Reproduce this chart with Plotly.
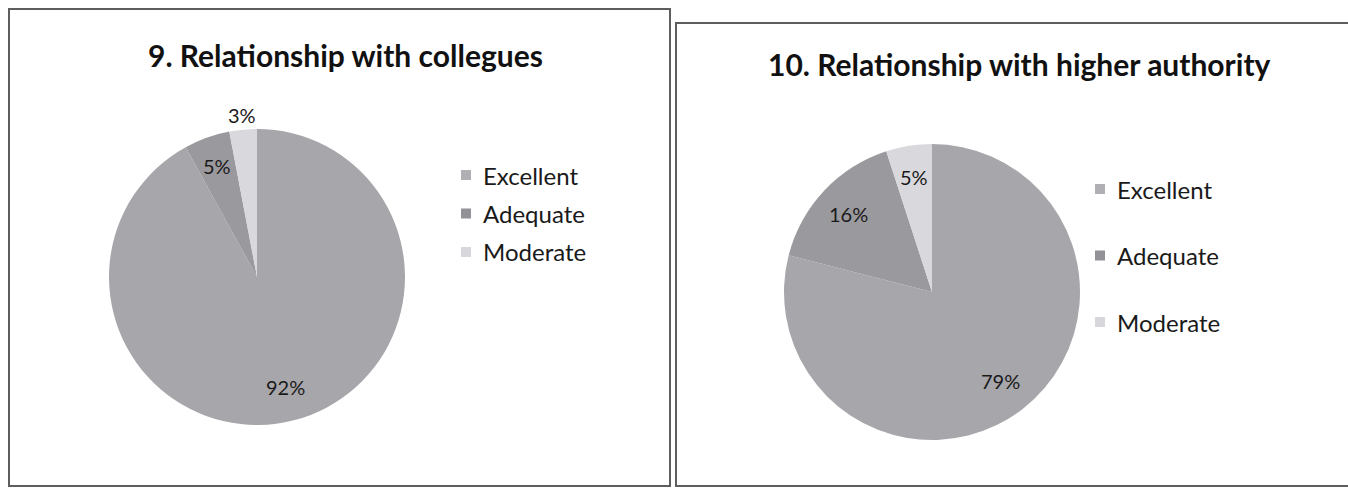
import math
import plotly.graph_objects as go

# datos
categorias = ["Excellent", "Adequate", "Moderate"]
colegas = [92, 5, 3]
autoridad = [79, 16, 5]
titulo_colegas = "9. Relationship with collegues"
titulo_autoridad = "10. Relationship with higher authority"

colores = ["#a7a6ab", "#9a999e", "#d9d9dd"]
colores_leyenda = ["#b0afb4", "#929197", "#d8d8dc"]

W, H = 1348, 495
fuente = "Lato"


def px(x):
    return x / W


def py(y):
    return 1 - y / H


fig = go.Figure()

paneles = [
    # valores, titulo, centro, radio, pos titulo, leyenda (x, y, paso), radios etiqueta
    (colegas, titulo_colegas, (257, 277), 148, (345, 55), (466, 175, 38.5), [0.77, 0.8, 1.1]),
    (autoridad, titulo_autoridad, (932, 292), 148, (1019, 64), (1100, 189, 66.5), [0.76, 0.77, 0.79]),
]

anotaciones = []
formas = []

for valores, titulo, (cx, cy), r, (tx, ty), (lx, ly, paso), radios in paneles:
    fig.add_trace(go.Pie(
        labels=categorias,
        values=valores,
        sort=False,
        direction="clockwise",
        rotation=0,
        marker={'colors': colores, 'line': {'width': 0}},
        textinfo="none",
        hoverinfo="label+percent",
        showlegend=False,
        domain={'x': [px(cx - r), px(cx + r)], 'y': [py(cy + r), py(cy - r)]},
    ))

    # etiquetas de porcentaje segun el angulo de cada porcion
    total = sum(valores)
    acumulado = 0
    for v, f in zip(valores, radios):
        ang = math.radians((acumulado + v / 2) / total * 360)
        acumulado += v
        x = cx + f * r * math.sin(ang)
        y = cy - f * r * math.cos(ang)
        anotaciones.append(dict(
            text="{}%".format(v), x=px(x), y=py(y), xref="paper", yref="paper",
            xanchor="center", yanchor="middle",
            showarrow=False, font={'size': 20, 'color': "#1a1a1a", 'family': fuente},
        ))

    anotaciones.append(dict(
        text="<b>{}</b>".format(titulo), x=px(tx), y=py(ty), xref="paper", yref="paper",
        xanchor="center", yanchor="middle",
        showarrow=False, font={'size': 30, 'color': "#111111", 'family': fuente},
    ))

    # leyenda hecha a mano
    for i, cat in enumerate(categorias):
        yy = ly + i * paso
        formas.append(dict(
            type="rect", xref="paper", yref="paper",
            x0=px(lx - 5), x1=px(lx + 5), y0=py(yy + 5), y1=py(yy - 5),
            fillcolor=colores_leyenda[i], line={'width': 0},
        ))
        anotaciones.append(dict(
            text=cat, x=px(lx + 15), y=py(yy), xref="paper", yref="paper",
            xanchor="left", yanchor="middle", showarrow=False,
            font={'size': 24, 'color': "#1a1a1a", 'family': fuente},
        ))

# marcos de los dos graficos
borde = {'color': "#5e5e5e", 'width': 2}
formas.append(dict(type="rect", xref="paper", yref="paper",
                   x0=px(9), x1=px(670), y0=py(486), y1=py(9), line=borde))
formas.append(dict(type="rect", xref="paper", yref="paper",
                   x0=px(676), x1=px(1360), y0=py(486), y1=py(23), line=borde))

fig.update_layout(
    width=W, height=H,
    margin={'l': 0, 'r': 0, 't': 0, 'b': 0},
    paper_bgcolor="white",
    plot_bgcolor="white",
    annotations=anotaciones,
    shapes=formas,
    font={'family': fuente},
)

# sin margen del body para que la figura empiece en (0, 0)
fig.write_html("out.html", config={'displayModeBar': False},
               post_script="document.body.style.margin='0';")
